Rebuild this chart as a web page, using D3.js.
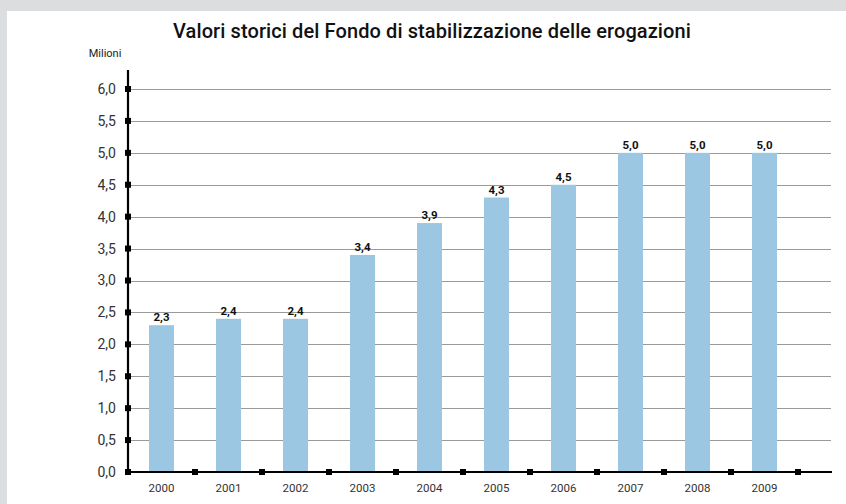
<!DOCTYPE html>
<html>
<head>
<meta charset="utf-8">
<script src="https://cdn.jsdelivr.net/npm/d3@7/dist/d3.min.js"></script>
<style>
  html, body { margin: 0; padding: 0; background: #dcdddf; }
  svg { display: block; }
</style>
</head>
<body>
<svg id="chart" width="846" height="504"></svg>
<script>
const years = ["2000", "2001", "2002", "2003", "2004", "2005", "2006", "2007", "2008", "2009"];
const values = [2.3, 2.4, 2.4, 3.4, 3.9, 4.3, 4.5, 5.0, 5.0, 5.0];
const yTicks = [0, 0.5, 1, 1.5, 2, 2.5, 3, 3.5, 4, 4.5, 5, 5.5, 6];
const title = "Valori storici del Fondo di stabilizzazione delle erogazioni";
const unitLabel = "Milioni";

const fmt = v => v.toFixed(1).replace(".", ",");

const svg = d3.select("#chart");

// white panel
svg.append("rect").attr("x", 7).attr("y", 11).attr("width", 839).attr("height", 493).attr("fill", "#fff");

const plotLeft = 128, plotRight = 798, plotTop = 89, plotBottom = 472, gridRight = 831, axisRight = 832;

const x = d3.scaleBand().domain(years).range([plotLeft, plotRight]).paddingInner(0).paddingOuter(0);
const y = d3.scaleLinear().domain([0, 6]).range([plotBottom, plotTop]);

// title
svg.append("text")
  .attr("x", 432).attr("y", 38)
  .attr("text-anchor", "middle")
  .attr("font-family", "Roboto, 'Open Sans', sans-serif")
  .attr("font-size", 20)
  .attr("font-weight", 500)
  .attr("letter-spacing", 0.1)
  .attr("fill", "#111")
  .text(title);

svg.append("text")
  .attr("x", 105).attr("y", 57)
  .attr("text-anchor", "middle")
  .attr("font-family", "Roboto, sans-serif")
  .attr("font-size", 11)
  .attr("fill", "#222")
  .text(unitLabel);

// horizontal grid
svg.append("g").selectAll("line")
  .data(yTicks.filter(d => d > 0))
  .join("line")
  .attr("x1", plotLeft).attr("x2", gridRight)
  .attr("y1", d => Math.round(y(d)) + 0.5).attr("y2", d => Math.round(y(d)) + 0.5)
  .attr("stroke", "#9a9a9a").attr("stroke-width", 1.2);

// bars
svg.append("g").selectAll("rect")
  .data(values)
  .join("rect")
  .attr("x", (d, i) => x(years[i]) + x.bandwidth() / 2 - 12.5)
  .attr("width", 25)
  .attr("y", d => y(d))
  .attr("height", d => plotBottom - y(d))
  .attr("fill", "#9cc7e3");

// value labels
svg.append("g").selectAll("text")
  .data(values)
  .join("text")
  .attr("x", (d, i) => x(years[i]) + x.bandwidth() / 2)
  .attr("y", d => y(d) - 4)
  .attr("text-anchor", "middle")
  .attr("font-family", "Roboto, sans-serif")
  .attr("font-size", 11.5)
  .attr("font-weight", 700)
  .attr("fill", "#111")
  .text(d => fmt(d));

// y axis
const yAxis = d3.axisLeft(y).tickValues(yTicks).tickSize(0).tickPadding(12).tickFormat(fmt);
const gy = svg.append("g").attr("transform", `translate(${plotLeft},0)`).call(yAxis);
gy.select(".domain").remove();
gy.selectAll("text").attr("font-family", "Roboto, sans-serif").attr("font-size", 14).attr("fill", "#333");
svg.append("line").attr("x1", plotLeft).attr("x2", plotLeft).attr("y1", 70).attr("y2", plotBottom + 1)
  .attr("stroke", "#000").attr("stroke-width", 2.2);
svg.append("g").selectAll("rect")
  .data(yTicks)
  .join("rect")
  .attr("x", plotLeft - 3).attr("y", d => y(d) - 3)
  .attr("width", 6).attr("height", 6).attr("fill", "#000");

// x axis
const xAxis = d3.axisBottom(x).tickSize(0).tickPadding(12);
const gx = svg.append("g").attr("transform", `translate(0,${plotBottom})`).call(xAxis);
gx.select(".domain").remove();
gx.selectAll("text").attr("font-family", "Roboto, sans-serif").attr("font-size", 11.5).attr("fill", "#333");
svg.append("line").attr("x1", plotLeft).attr("x2", axisRight).attr("y1", plotBottom).attr("y2", plotBottom)
  .attr("stroke", "#000").attr("stroke-width", 2.2);
const boundaries = years.map(d => x(d) + x.bandwidth()).concat([x(years[0])]);
svg.append("g").selectAll("rect")
  .data(boundaries)
  .join("rect")
  .attr("x", d => d - 3).attr("y", plotBottom - 3)
  .attr("width", 6).attr("height", 6).attr("fill", "#000");
</script>
</body>
</html>
